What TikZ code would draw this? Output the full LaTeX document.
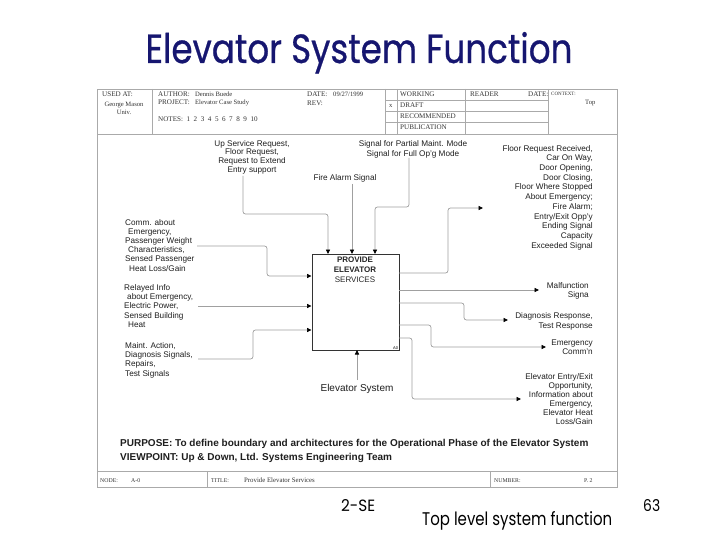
\documentclass[tikz,border=0pt]{standalone}
\usepackage{graphicx}
\usepackage{fontspec}
\setmainfont{Liberation Sans}
\newfontfamily\serifhdr{Liberation Serif}
\newfontfamily\comic{Poppins}
\newfontfamily\comicT{Poppins}[FakeBold=0.7]
\usetikzlibrary{arrows.meta,calc}
\definecolor{navy}{RGB}{22,22,112}
\definecolor{wiregray}{RGB}{160,160,160}
\definecolor{framegray}{RGB}{170,170,170}
\begin{document}
\begin{tikzpicture}[x=1pt,y=-1pt,
  lbl/.style={inner sep=0pt, text=black!88},
  wire/.style={draw=wiregray, line width=0.7pt, rounded corners=2.5pt},
  tip/.style={-{Triangle[length=4.5pt,width=4.2pt,color=black]}},
  frm/.style={draw=framegray, line width=0.7pt},
  hd/.style={inner sep=0pt, anchor=base west, font=\serifhdr\fontsize{6.6}{7}\selectfont, text=black!80},
  hdc/.style={hd, font=\serifhdr\fontsize{7.1}{7.5}\selectfont},
  ft/.style={inner sep=0pt, anchor=base west, font=\serifhdr\fontsize{5.8}{6}\selectfont, text=black!80},
]
\fill[white] (0,0) rectangle (720,540);
\useasboundingbox (0,0) rectangle (720,540);

% title
\node[anchor=base, inner sep=0pt, text=navy] (title) at (359,63) {\resizebox{427pt}{31pt}{\comicT Elevator System Function}};

% form frame
\draw[frm] (97,89) rectangle (617,487);
\draw[frm] (97,134) -- (617,134);
\draw[frm] (97,471) -- (617,471);
\foreach \xx in {152,385,397,465,548} \draw[frm] (\xx,89) -- (\xx,134);
\foreach \yy in {100,111,122} \draw[frm] (385,\yy) -- (548,\yy);
\draw[frm] (207,471) -- (207,487);
\draw[frm] (490,471) -- (490,487);

% header texts
\node[hdc] (h1) at (102,97) {USED AT:};
\node[hd, anchor=base] (h2) at (124,106.5) {George Mason};
\node[hd, anchor=base] (h3) at (124,114.5) {Univ.};
\node[hdc] (h4) at (158,97) {AUTHOR:};
\node[hd] (h5) at (195,97) {Dennis Buede};
\node[hdc] (h6) at (158,105) {PROJECT:};
\node[hd] (h7) at (195,105) {Elevator Case Study};
\node[hdc] (h8) at (158,122) {NOTES:\ \ 1\ \ 2\ \ 3\ \ 4\ \ 5\ \ 6\ \ 7\ \ 8\ \ 9\ \ 10};
\node[hdc] (h9) at (307,97) {DATE:};
\node[hd] (h10) at (333,97) {09/27/1999};
\node[hdc] (h11) at (307,106) {REV:};
\node[hd] (h12) at (389,108) {x};
\node[hdc] (h13) at (400,97) {WORKING};
\node[hdc] (h14) at (400,108) {DRAFT};
\node[hdc] (h15) at (400,119) {RECOMMENDED};
\node[hdc] (h16) at (400,130) {PUBLICATION};
\node[hdc] (h17) at (470,97) {READER};
\node[hdc] (h18) at (528,97) {DATE:};
\node[hd, font=\serifhdr\fontsize{5}{5}\selectfont] (h19) at (551,96) {CONTEXT:};
\node[hd] (h20) at (585,105) {Top};

% footer texts
\node[ft] (f1) at (100,482) {NODE:};
\node[ft] (f2) at (131,482) {A-0};
\node[ft] (f3) at (211,482) {TITLE:};
\node[ft, font=\serifhdr\fontsize{6.8}{7}\selectfont] (f4) at (244,482) {Provide Elevator Services};
\node[ft] (f5) at (494,482) {NUMBER:};
\node[ft] (f6) at (584,482) {P. 2};

% activity box
\node[draw=black!80, line width=0.8pt, minimum width=87.5pt, minimum height=96pt, inner sep=0pt, anchor=north west] (box) at (311.5,254) {};
\node[anchor=north, inner sep=0pt, align=center, font=\fontsize{8}{10}\selectfont, text=black!85] (boxtxt) at (355,257) {\textbf{PROVIDE}\\\textbf{ELEVATOR}\\SERVICES};
\node[anchor=south east, inner sep=1.5pt, font=\fontsize{4}{4}\selectfont] (a0) at (box.south east) {A0};

% ports on the box
\coordinate (t1) at (328,254);
\coordinate (t2) at (352,254);
\coordinate (t3) at (375,254);
\coordinate (l1) at (311.5,276);
\coordinate (l2) at (311.5,306);
\coordinate (l3) at (311.5,330);
\coordinate (b1) at (357,350);
\coordinate (r1) at (399,273);
\coordinate (r2) at (399,290);
\coordinate (r3) at (399,303);
\coordinate (r4) at (399,325);
\coordinate (r5) at (399,338);

% free ends
\coordinate (s1) at (243,176);
\coordinate (s2) at (352,184);
\coordinate (s3) at (409,158);
\coordinate (li1) at (197,246);
\coordinate (li2) at (198,306);
\coordinate (li3) at (198,359);
\coordinate (m1) at (357,380);
\coordinate (e1) at (483,208);
\coordinate (e2) at (539,290);
\coordinate (e3) at (508,320);
\coordinate (e4) at (546,347);
\coordinate (e5) at (521,399);

% controls
\draw[wire,tip] (s1) -- (243,214) -- (328,214) -- (t1);
\draw[wire,tip] (s2) -- (t2);
\draw[wire,tip] (s3) -- (409,207) -- (375,207) -- (t3);
% inputs
\draw[wire,tip] (li1) -- (267,246) -- (267,276) -- (l1);
\draw[wire,tip] (li2) -- (l2);
\draw[wire,tip] (li3) -- (253,359) -- (253,330) -- (l3);
% mechanism
\draw[wire,tip] (m1) -- (b1);
% outputs
\draw[wire,tip] (r1) -- (448,273) -- (448,208) -- (e1);
\draw[wire,tip] (r2) -- (e2);
\draw[wire,tip] (r3) -- (464,303) -- (464,320) -- (e3);
\draw[wire,tip] (r4) -- (431,325) -- (431,347) -- (e4);
\draw[wire,tip] (r5) -- (412,338) -- (412,399) -- (e5);

% control labels
\node[lbl, anchor=north, align=center, font=\fontsize{8.2}{8.7}\selectfont] (c1) at (252,140) {Up Service Request,\\Floor Request,\\Request to Extend\\Entry support};
\node[lbl, anchor=base, font=\fontsize{8.2}{9}\selectfont] (c2) at (345,181) {Fire Alarm Signal};
\node[lbl, anchor=north, align=center, font=\fontsize{8.2}{10}\selectfont] (c3) at (413,140) {Signal for Partial Maint. Mode\\Signal for Full Op'g Mode};

% input labels
\node[lbl, anchor=north west, align=left, font=\fontsize{8.2}{9.2}\selectfont] (i1) at (125,219) {Comm. about\\\hspace*{3pt}Emergency,\\Passenger Weight\\\hspace*{3pt}Characteristics,\\Sensed Passenger\\\hspace*{4pt}Heat Loss/Gain};
\node[lbl, anchor=north west, align=left, font=\fontsize{8.2}{9.3}\selectfont] (i2) at (124,284) {Relayed Info\\\hspace*{3pt}about Emergency,\\Electric Power,\\Sensed Building\\\hspace*{4pt}Heat};
\node[lbl, anchor=north west, align=left, font=\fontsize{8.2}{9.3}\selectfont] (i3) at (125,342) {Maint. Action,\\Diagnosis Signals,\\Repairs,\\Test Signals};

% mechanism label
\node[lbl, anchor=base, font=\fontsize{10}{11}\selectfont] (mech) at (357,391) {Elevator System};

% output labels
\node[lbl, anchor=north east, align=right, font=\fontsize{8.2}{9.7}\selectfont] (o1) at (593,145) {Floor Request Received,\\Car On Way,\\Door Opening,\\Door Closing,\\Floor Where Stopped\\About Emergency;\\Fire Alarm;\\Entry/Exit Opp'y\\Ending Signal\\Capacity\\Exceeded Signal};
\node[lbl, anchor=north east, align=right, font=\fontsize{8.2}{9.5}\selectfont] (o2) at (589,282) {Malfunction\\Signa};
\node[lbl, anchor=north east, align=right, font=\fontsize{8.2}{10}\selectfont] (o3) at (593,312) {Diagnosis Response,\\Test Response};
\node[lbl, anchor=north east, align=right, font=\fontsize{8.2}{9}\selectfont] (o4) at (593,340) {Emergency\\Comm'n};
\node[lbl, anchor=north east, align=right, font=\fontsize{8.2}{9}\selectfont] (o5) at (593,373) {Elevator Entry/Exit\\Opportunity,\\Information about\\Emergency,\\Elevator Heat\\Loss/Gain};

% purpose
\node[lbl, anchor=base west, font=\bfseries\fontsize{10}{12}\selectfont] (purp) at (120,446) {PURPOSE: To define boundary and architectures for the Operational Phase of the Elevator System};
\node[lbl, anchor=base west, font=\bfseries\fontsize{10}{12}\selectfont] (view) at (120,460) {VIEWPOINT: Up \& Down, Ltd. Systems Engineering Team};

% slide footer
\node[anchor=base west, inner sep=0pt] (se) at (341,511) {\resizebox{34pt}{12pt}{\comic 2-SE}};
\node[anchor=base west, inner sep=0pt] (cap) at (422,525) {\resizebox{190pt}{14pt}{\comic Top level system function}};
\node[anchor=base west, inner sep=0pt] (pg) at (643,511) {\resizebox{17pt}{12pt}{\comic 63}};
\end{tikzpicture}
\end{document}
